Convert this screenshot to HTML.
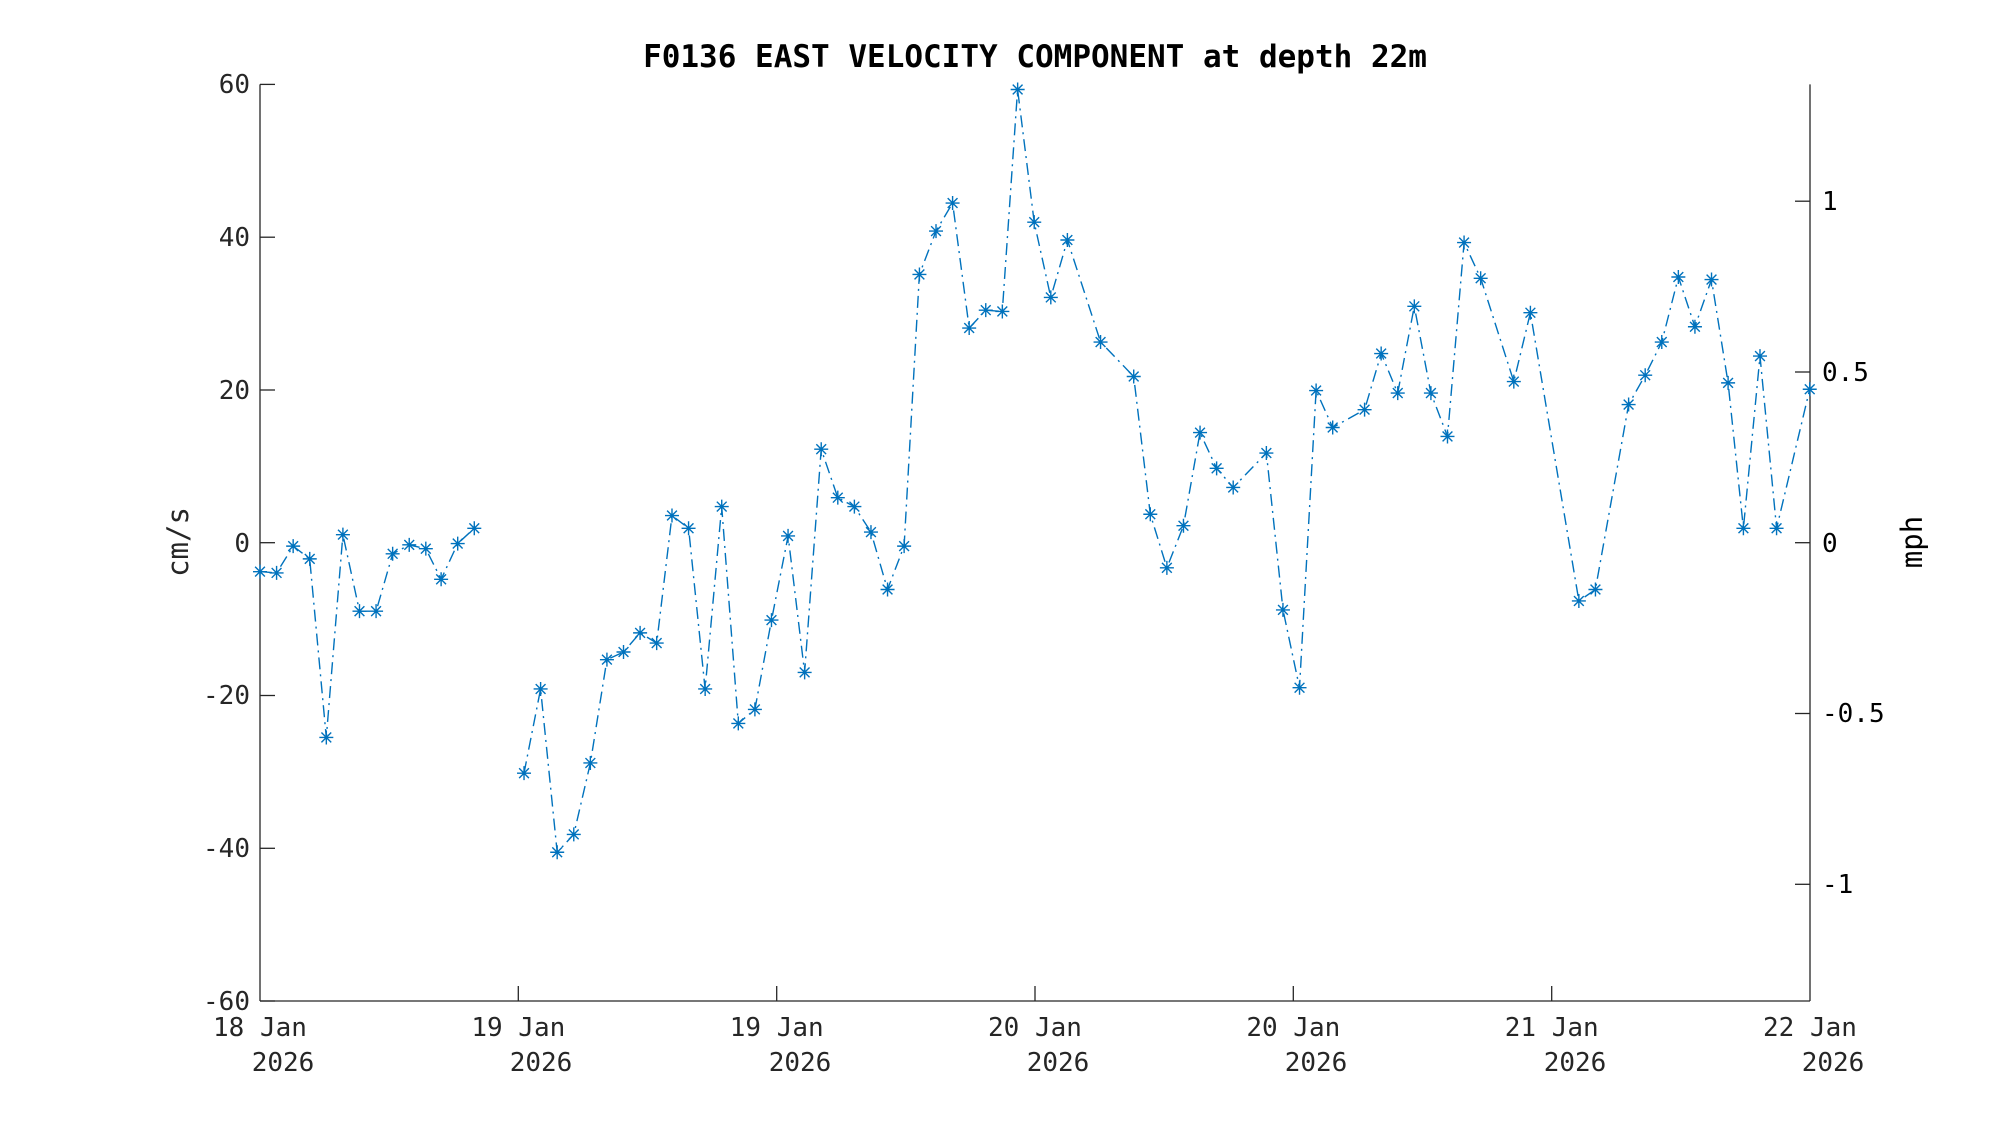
<!DOCTYPE html>
<html><head><meta charset="utf-8"><style>
html,body{margin:0;padding:0;background:#fff;}
svg text{font-family:"DejaVu Sans Mono","Liberation Mono",monospace;fill:#262626;}
</style></head><body>
<svg id="s" width="2000" height="1125" viewBox="0 0 2000 1125" xmlns="http://www.w3.org/2000/svg">
<rect width="2000" height="1125" fill="#fff"/>
<text x="1035" y="67" font-size="31" font-weight="bold" text-anchor="middle" style="fill:#000">F0136 EAST VELOCITY COMPONENT at depth 22m</text>
<g stroke="#262626" stroke-width="1.3" fill="none">
<line x1="260" y1="84.4" x2="260" y2="1001"/>
<line x1="260" y1="1001" x2="1810" y2="1001"/>
<line x1="1810" y1="84.4" x2="1810" y2="1001"/>
<line x1="260" y1="84.4" x2="275" y2="84.4"/>
<line x1="260" y1="237.2" x2="275" y2="237.2"/>
<line x1="260" y1="390" x2="275" y2="390"/>
<line x1="260" y1="542.7" x2="275" y2="542.7"/>
<line x1="260" y1="695.5" x2="275" y2="695.5"/>
<line x1="260" y1="848.3" x2="275" y2="848.3"/>
<line x1="260" y1="1001" x2="275" y2="1001"/>
<line x1="1795" y1="201.2" x2="1810" y2="201.2"/>
<line x1="1795" y1="372" x2="1810" y2="372"/>
<line x1="1795" y1="542.7" x2="1810" y2="542.7"/>
<line x1="1795" y1="713.5" x2="1810" y2="713.5"/>
<line x1="1795" y1="884.3" x2="1810" y2="884.3"/>
<line x1="518.3" y1="986" x2="518.3" y2="1001"/>
<line x1="776.7" y1="986" x2="776.7" y2="1001"/>
<line x1="1035" y1="986" x2="1035" y2="1001"/>
<line x1="1293.3" y1="986" x2="1293.3" y2="1001"/>
<line x1="1551.7" y1="986" x2="1551.7" y2="1001"/>
</g>
<g font-size="26" text-anchor="end">
<text x="250" y="93">60</text>
<text x="250" y="246">40</text>
<text x="250" y="399">20</text>
<text x="250" y="552">0</text>
<text x="250" y="704">-20</text>
<text x="250" y="857">-40</text>
<text x="250" y="1010">-60</text>
</g>
<g font-size="26" text-anchor="start">
<text x="1822" y="210" style="fill:#000">1</text>
<text x="1822" y="381" style="fill:#000">0.5</text>
<text x="1822" y="552" style="fill:#000">0</text>
<text x="1822" y="722" style="fill:#000">-0.5</text>
<text x="1822" y="893" style="fill:#000">-1</text>
</g>
<g font-size="26" text-anchor="middle">
<text x="260" y="1036">18 Jan</text><text x="283" y="1071">2026</text>
<text x="518.3" y="1036">19 Jan</text><text x="541" y="1071">2026</text>
<text x="776.7" y="1036">19 Jan</text><text x="800" y="1071">2026</text>
<text x="1035" y="1036">20 Jan</text><text x="1058" y="1071">2026</text>
<text x="1293.3" y="1036">20 Jan</text><text x="1316" y="1071">2026</text>
<text x="1551.7" y="1036">21 Jan</text><text x="1575" y="1071">2026</text>
<text x="1810" y="1036">22 Jan</text><text x="1833" y="1071">2026</text>
</g>
<text transform="translate(188,542) rotate(-90)" font-size="29" text-anchor="middle">cm/s</text>
<text transform="translate(1922,542) rotate(-90)" font-size="29" text-anchor="middle" style="fill:#000">mph</text>
<g id="data"></g>
</svg>
<script>
var seg1=[[204,448],[217,449],[230,428],[243,438],[256,578],[269,419],[282,479],[295,479],[308,434],[321,427],[334,430],[346,454],[359,426],[372,414]];
var seg2=[[411,606],[424,540],[437,668],[450,654],[463,598],[476,517],[489,511],[502,496],[515,504],[527,404],[540,414],[553,540],[566,397],[579,567],[592,556],[605,486],[618,420],[631,527],[644,352],[657,390],[670,397],[683,417],[696,462],[709,428],[721,215],[734,181],[747,159],[760,257],[773,243],[786,244],[798,70],[811,174],[824,233],[837,188],[863,268],[889,295],[902,403],[915,445],[928,412],[941,339],[954,367],[967,382],[993,355],[1006,478],[1019,539],[1032,306],[1045,335],[1070,321],[1083,277],[1096,308],[1109,240],[1122,308],[1135,342],[1148,190],[1161,218],[1187,299],[1200,245],[1238,471],[1251,462],[1277,317],[1290,294],[1303,268],[1316,217],[1329,256],[1342,219],[1355,300],[1367,414],[1380,279],[1393,414],[1419,305]];
var NS="http://www.w3.org/2000/svg",g=document.getElementById('data');
function tx(p){return [260+(p[0]-204)*1.2755,84.4+(p[1]-66)*1.2755];}
[seg1,seg2].forEach(function(seg){
 var pts=seg.map(tx);
 var pl=document.createElementNS(NS,'polyline');
 pl.setAttribute('points',pts.map(function(q){return q[0].toFixed(1)+','+q[1].toFixed(1)}).join(' '));
 pl.setAttribute('fill','none');pl.setAttribute('stroke','#0072BD');pl.setAttribute('stroke-width','1.4');
 pl.setAttribute('stroke-dasharray','12 5 2 5');g.appendChild(pl);
 pts.forEach(function(q){
  var r=7,d='M'+(q[0]-r)+' '+q[1]+'h'+(2*r)+'M'+q[0]+' '+(q[1]-r)+'v'+(2*r)+
   'M'+(q[0]-r*0.7)+' '+(q[1]-r*0.7)+'l'+(1.4*r)+' '+(1.4*r)+'M'+(q[0]-r*0.7)+' '+(q[1]+r*0.7)+'l'+(1.4*r)+' '+(-1.4*r);
  var p=document.createElementNS(NS,'path');p.setAttribute('d',d);p.setAttribute('stroke','#0072BD');p.setAttribute('stroke-width','1.4');
  g.appendChild(p);
 });
});
</script>
</body></html>
